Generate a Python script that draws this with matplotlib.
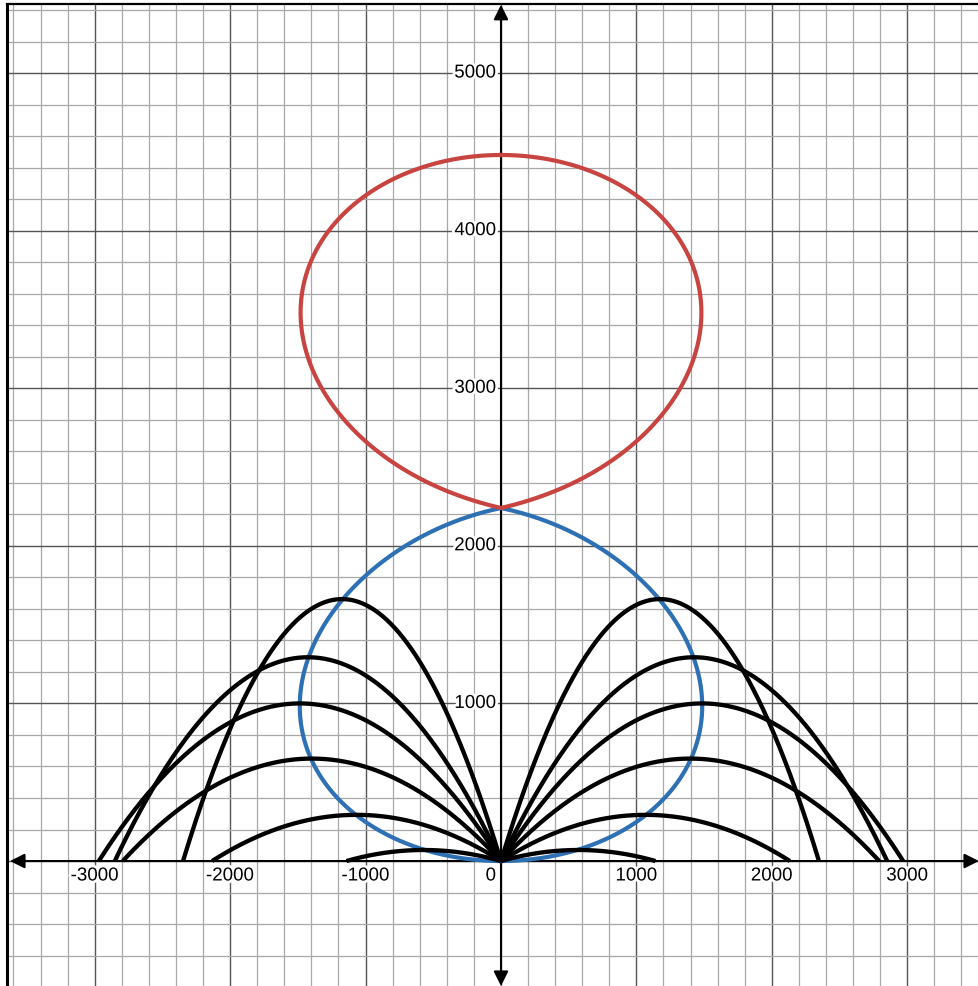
import matplotlib
matplotlib.use("Agg")
import matplotlib.pyplot as plt
import matplotlib.patheffects as pe
import numpy as np

plt.rcParams["font.family"] = ["Liberation Sans", "DejaVu Sans"]

# trajectories launched from the origin: landing distance and peak height
traj_range = [1141, 2133, 2793, 2970, 2852, 2348]
traj_height = [70, 293, 650, 1000, 1293, 1662]

# the two egg-shaped loops, each with a round end and a pointed end
# (y of round end, y of pointed end, half width, exponents, size of the point)
blue_loop = dict(round_y=0, point_y=2240, half_width=1486, a=1.0, b=1.24, tip=0.03)
red_loop = dict(round_y=4480, point_y=2240, half_width=1480, a=1.0, b=1.17, tip=0.05)

x_ticks = [-3000, -2000, -1000, 1000, 2000, 3000]
y_ticks = [1000, 2000, 3000, 4000, 5000]

W, H = 979, 987
fig = plt.figure(figsize=(W / 100, H / 100), dpi=100)
ax = fig.add_axes([7 / W, 0, 972 / W, 982 / H])
xmin, xmax = -3648, 3530
ymin, ymax = -793, 5438
ax.set_xlim(xmin, xmax)
ax.set_ylim(ymin, ymax)

# grid
for gx in range(-3600, 3601, 200):
    major = gx % 1000 == 0
    ax.axvline(gx, color="#555555" if major else "#a8a8a8",
               lw=1.0 if major else 0.9, zorder=0)
for gy in range(-800, 5401, 200):
    major = gy % 1000 == 0
    ax.axhline(gy, color="#555555" if major else "#a8a8a8",
               lw=1.0 if major else 0.9, zorder=0)

ax.set_xticks([])
ax.set_yticks([])
for side in ["right", "bottom"]:
    ax.spines[side].set_visible(False)
ax.spines["left"].set_linewidth(2.2)
ax.spines["top"].set_linewidth(1.6)

# axes with arrows
arrow = dict(arrowstyle="<|-|>", mutation_scale=22, lw=1.5, color="black",
             shrinkA=0, shrinkB=0)
ax.annotate("", xy=(xmax, 0), xytext=(-3626, 0), arrowprops=arrow, zorder=1)
ax.annotate("", xy=(0, ymax - 5), xytext=(0, ymin), arrowprops=arrow, zorder=1)

halo = [pe.withStroke(linewidth=4, foreground="white")]
for t in x_ticks:
    ax.text(t, -95, str(t), ha="center", va="center",
            fontsize=13.5, path_effects=halo, zorder=2)
ax.text(-75, -95, "0", ha="center", va="center", fontsize=13.5,
        path_effects=halo, zorder=2)
for t in y_ticks:
    ax.text(-35, t, str(t), ha="right", va="center", fontsize=13.5,
            path_effects=halo, zorder=2)


def loop(p):
    # s runs from the round end (0) to the pointed end (1)
    s = (1 - np.cos(np.linspace(0, np.pi, 800))) / 2
    t = np.clip(1 - s, 1e-9, None)
    shape = np.sqrt(s ** p["a"] * t ** p["b"])
    shape *= (t / (t + p["tip"])) ** (1 - p["b"] / 2)
    xs = p["half_width"] * shape / shape.max()
    ys = p["round_y"] + s * (p["point_y"] - p["round_y"])
    return np.concatenate([xs, -xs[::-1]]), np.concatenate([ys, ys[::-1]])


bx, by = loop(blue_loop)
ax.plot(bx, by, color="#2d70b3", lw=3.0, zorder=3, solid_joinstyle="miter")
rx, ry = loop(red_loop)
ax.plot(rx, ry, color="#c74440", lw=3.0, zorder=3, solid_joinstyle="miter")

for r, h in zip(traj_range, traj_height):
    xs = np.linspace(0, r, 300)
    ys = 4 * h * xs * (r - xs) / r ** 2
    for sgn in (1, -1):
        ax.plot(sgn * xs, ys, color="black", lw=3.1, zorder=4,
                solid_capstyle="butt")

fig.savefig("out.png", dpi=100, facecolor="white")
